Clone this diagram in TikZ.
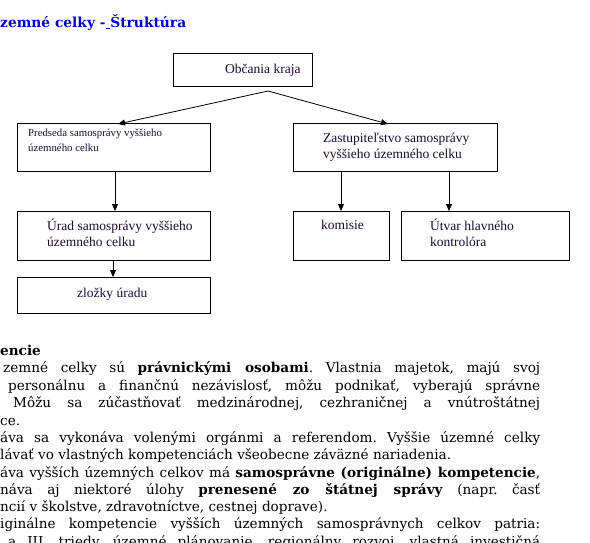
\documentclass[tikz,border=0pt]{standalone}
\usepackage{fontspec}
\setmainfont{DejaVu Serif}
\newfontfamily\boxfont{Liberation Serif}
\usetikzlibrary{arrows.meta}
\definecolor{boxtext}{RGB}{30,10,50}
\definecolor{headblue}{RGB}{0,0,200}
\frenchspacing
\tikzset{
  orgbox/.style={draw=black, line width=0.8pt, fill=white},
  boxlabel/.style={font=\boxfont\fontsize{13.5}{16}\selectfont, text=boxtext, inner sep=0pt, anchor=base west, align=left},
  smalllabel/.style={font=\boxfont\fontsize{10.8}{15}\selectfont, text=boxtext, inner sep=0pt, anchor=base west, align=left},
  conn/.style={line width=0.8pt, -{Triangle[length=7pt,width=6pt]}},
  bodyline/.style={font=\fontsize{13.6}{15}\selectfont, inner sep=0pt, anchor=base west},
}
\begin{document}
\begin{tikzpicture}[x=1pt,y=-1pt]
\clip (0,0) rectangle (590,542);
\fill[white] (0,0) rectangle (590,542);

% heading
\node[font=\bfseries\fontsize{13.8}{16}\selectfont, text=headblue, inner sep=0pt, anchor=base west] (head) at (0,27) {zemné celky -\underline{\ }Štruktúra};

% boxes
\draw[orgbox] (173,53) rectangle (312,86);
\coordinate (obc) at (268,91);
\node[boxlabel] (obcl) at (225,73) {Občania kraja};

\draw[orgbox] (17,123) rectangle (210,171);
\node[smalllabel] (pred) at (28,151) {Predseda samosprávy vyššieho\\územného celku};
\coordinate (predT) at (118,124);
\coordinate (predB) at (115,171);

\draw[orgbox] (293,123) rectangle (497,171);
\node[boxlabel] (zast) at (323,158) {Zastupiteľstvo samosprávy\\vyššieho územného celku};
\coordinate (zastT) at (388,124);
\coordinate (zastB1) at (341,171);
\coordinate (zastB2) at (449,171);

\draw[orgbox] (17,211) rectangle (210,260);
\node[boxlabel] (urad) at (47,246) {Úrad samosprávy vyššieho\\územného celku};
\coordinate (uradT) at (115,211);
\coordinate (uradB) at (113,260);

\draw[orgbox] (17,277) rectangle (210,313);
\node[boxlabel] (zlo) at (77,297) {zložky úradu};
\coordinate (zloT) at (113,277);

\draw[orgbox] (293,211) rectangle (389,260);
\node[boxlabel] (kom) at (321,229) {komisie};
\coordinate (komT) at (341,211);

\draw[orgbox] (401,211) rectangle (569,260);
\node[boxlabel] (utv) at (430,246) {Útvar hlavného\\kontrolóra};
\coordinate (utvT) at (449,211);

% connectors
\draw[conn] (obc) -- (predT);
\draw[conn] (obc) -- (zastT);
\draw[conn] (predB) -- (uradT);
\draw[conn] (uradB) -- (zloT);
\draw[conn] (zastB1) -- (komT);
\draw[conn] (zastB2) -- (utvT);

% body text
\node[bodyline] (t0) at (0,355) {\bfseries encie};
\node[bodyline] (t1) at (3,372) {\makebox[537pt][s]{zemné celky sú \textbf{právnickými osobami}. Vlastnia majetok, majú svoj}};
\node[bodyline] (t2) at (8,390) {\makebox[532pt][s]{personálnu a finančnú nezávislosť, môžu podnikať, vyberajú správne}};
\node[bodyline] (t3) at (13,407) {\makebox[527pt][s]{Môžu sa zúčastňovať medzinárodnej, cezhraničnej a vnútroštátnej}};
\node[bodyline] (t4) at (0,425) {ce.};
\node[bodyline] (t5) at (0,442) {\makebox[540pt][s]{áva sa vykonáva volenými orgánmi a referendom. Vyššie územné celky}};
\node[bodyline] (t6) at (0,459) {lávať vo vlastných kompetenciách všeobecne záväzné nariadenia.};
\node[bodyline] (t7) at (0,477) {\makebox[540pt][s]{áva vyšších územných celkov má \textbf{samosprávne (originálne) kompetencie},}};
\node[bodyline] (t8) at (0,494) {\makebox[540pt][s]{náva aj niektoré úlohy \textbf{prenesené zo štátnej správy} (napr. časť}};
\node[bodyline] (t9) at (0,511) {ncií v školstve, zdravotníctve, cestnej doprave).};
\node[bodyline] (t10) at (0,528) {\makebox[540pt][s]{iginálne kompetencie vyšších územných samosprávnych celkov patria:}};
\node[bodyline] (t11) at (8,546) {\makebox[532pt][s]{a III. triedy, územné plánovanie, regionálny rozvoj, vlastná investičná}};
\end{tikzpicture}
\end{document}
